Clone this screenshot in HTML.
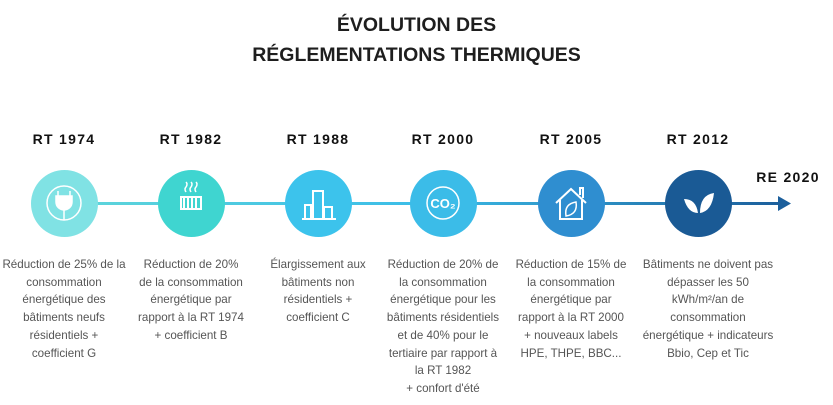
<!DOCTYPE html>
<html><head><meta charset="utf-8"><style>
body{margin:0;width:833px;height:405px;background:#fff;position:relative;overflow:hidden;font-family:"Liberation Sans",sans-serif;}
.t{position:absolute;left:0;width:833px;text-align:center;font-weight:bold;font-size:19.5px;color:#1e1e1e;line-height:30px;top:10px}
.lab{position:absolute;width:120px;text-align:center;font-weight:bold;font-size:14px;letter-spacing:1.3px;color:#111;top:131px}
.c{position:absolute;width:67px;height:67px;border-radius:50%;top:170px}
.tx{position:absolute;width:140px;text-align:center;font-size:11.6px;line-height:17.7px;color:#555;top:256px;white-space:nowrap}
</style></head><body>
<div class="t">ÉVOLUTION DES<br>RÉGLEMENTATIONS THERMIQUES</div>
<svg width="833" height="405" style="position:absolute;left:0;top:0">
<defs><linearGradient id="g" x1="0" x2="1"><stop offset="0" stop-color="#5fd6da"/><stop offset="0.5" stop-color="#3bbde8"/><stop offset="1" stop-color="#1c5f9c"/></linearGradient></defs>
<rect x="64" y="202" width="716" height="3" fill="url(#g)"/>
<polygon points="778,196 791,203.5 778,211" fill="#1c5f9c"/>
</svg>
<div class="lab" style="left:4px">RT 1974</div>
<div class="lab" style="left:131px">RT 1982</div>
<div class="lab" style="left:258px">RT 1988</div>
<div class="lab" style="left:383px">RT 2000</div>
<div class="lab" style="left:511px">RT 2005</div>
<div class="lab" style="left:638px">RT 2012</div>
<div class="lab" style="left:728px;top:169px">RE 2020</div>
<div class="c" style="left:31px;background:#80e2e4"></div>
<div class="c" style="left:158px;background:#3fd5d0"></div>
<div class="c" style="left:285px;background:#3cc3ec"></div>
<div class="c" style="left:410px;background:#3bbce8"></div>
<div class="c" style="left:538px;background:#2f8ed0"></div>
<div class="c" style="left:665px;background:#1a5a95"></div>
<svg width="833" height="405" style="position:absolute;left:0;top:0" fill="none" stroke="#fff" stroke-width="1.5">
<circle cx="64" cy="203" r="17"/><path d="M58 196v-5M70 196v-5M56 196h16v6a8 8 0 0 1-16 0z" fill="#fff"/><path d="M64 210v10"/>
<path d="M181 197h20v12h-20zM184 197v12M188 197v12M192 197v12M196 197v12" stroke-width="2"/>
<path d="M186 192q-2-3 0-5q2-3 0-5M191 192q-2-3 0-5q2-3 0-5M196 192q-2-3 0-5q2-3 0-5"/>
<path d="M302 219h34M305 219v-14h6v14M313 219v-28h10v28M324 219v-12h8v12" stroke-width="2"/>
<circle cx="443" cy="203" r="16"/><text x="443" y="208" fill="#fff" stroke="none" font-size="13" font-weight="bold" text-anchor="middle" font-family="Liberation Sans">CO₂</text>
<path d="M556 203l15-14 15 14M560 200v19h22v-19M580 195v-7h3v10" stroke-width="2"/><path d="M566 216q-2-12 10-14q2 12-10 14z"/>
<path d="M684 199q4 14 14 14q-2-14-14-14z M700 213q12-2 14-20q-14 2-14 20z" fill="#fff" stroke="none"/>
</svg>
<div class="tx" style="left:-6px">Réduction de 25% de la<br>consommation<br>énergétique des<br>bâtiments neufs<br>résidentiels +<br>coefficient G</div>
<div class="tx" style="left:121px">Réduction de 20%<br>de la consommation<br>énergétique par<br>rapport à la RT 1974<br>+ coefficient B</div>
<div class="tx" style="left:248px">Élargissement aux<br>bâtiments non<br>résidentiels +<br>coefficient C</div>
<div class="tx" style="left:373px">Réduction de 20% de<br>la consommation<br>énergétique pour les<br>bâtiments résidentiels<br>et de 40% pour le<br>tertiaire par rapport à<br>la RT 1982<br>+ confort d'été</div>
<div class="tx" style="left:501px">Réduction de 15% de<br>la consommation<br>énergétique par<br>rapport à la RT 2000<br>+ nouveaux labels<br>HPE, THPE, BBC...</div>
<div class="tx" style="left:638px">Bâtiments ne doivent pas<br>dépasser les 50<br>kWh/m²/an de<br>consommation<br>énergétique + indicateurs<br>Bbio, Cep et Tic</div>
</body></html>
